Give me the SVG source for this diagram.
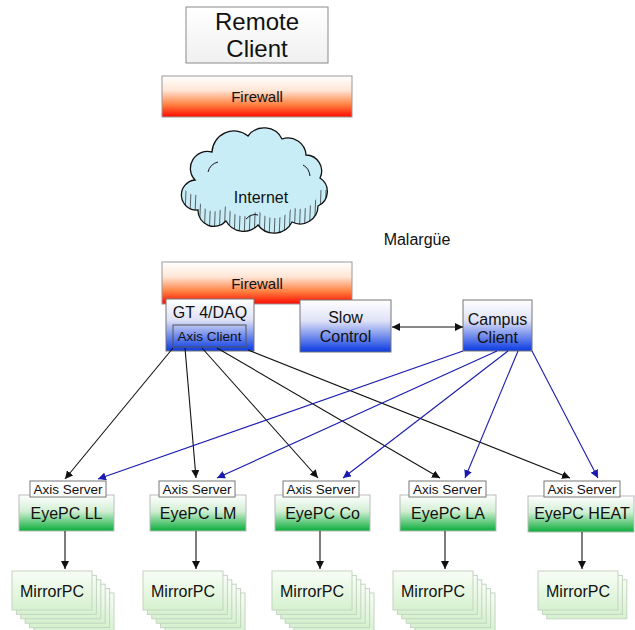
<svg xmlns="http://www.w3.org/2000/svg" width="635" height="630" viewBox="0 0 635 630">
  <defs>
    <linearGradient id="gFire" x1="0" y1="0" x2="0" y2="1">
      <stop offset="0" stop-color="#ffffff"/>
      <stop offset="0.35" stop-color="#ffe6d6"/>
      <stop offset="0.7" stop-color="#ff8040"/>
      <stop offset="1" stop-color="#ff0a00"/>
    </linearGradient>
    <linearGradient id="gBlue" x1="0" y1="0" x2="0" y2="1">
      <stop offset="0" stop-color="#ffffff"/>
      <stop offset="0.4" stop-color="#dfe2f6"/>
      <stop offset="1" stop-color="#0a3ae2"/>
    </linearGradient>
    <linearGradient id="gGreen" x1="0" y1="0" x2="0" y2="1">
      <stop offset="0" stop-color="#ffffff"/>
      <stop offset="0.45" stop-color="#d2efd4"/>
      <stop offset="1" stop-color="#0aad3a"/>
    </linearGradient>
    <linearGradient id="gMirror" x1="0" y1="0" x2="0" y2="1">
      <stop offset="0" stop-color="#f8fdf6"/>
      <stop offset="1" stop-color="#d6f1cf"/>
    </linearGradient>
    <linearGradient id="gGray" x1="0" y1="0" x2="0" y2="1">
      <stop offset="0" stop-color="#ffffff"/>
      <stop offset="1" stop-color="#f0f0f0"/>
    </linearGradient>
    <path id="cloudShape" d="M 195,180 A 17,17 0 0 1 212,152 A 22,22 0 0 1 248,136 A 20,20 0 0 1 282,139 A 18,18 0 0 1 306,155 A 16,16 0 0 1 320,178 A 16,16 0 0 1 318,206 A 18,18 0 0 1 292,222 A 20,20 0 0 1 258,225 A 20,20 0 0 1 226,221 A 16,16 0 0 1 198,210 A 15,15 0 0 1 195,180 Z"/>
    <mask id="hatchBand">
      <use href="#cloudShape" fill="#fff"/>
      <use href="#cloudShape" fill="#000" transform="translate(0,-15)"/>
    </mask>
    <marker id="arrK" viewBox="0 0 10 10" refX="10" refY="5" markerWidth="8" markerHeight="8" markerUnits="userSpaceOnUse" orient="auto-start-reverse">
      <path d="M0,0 L10,5 L0,10 Z" fill="#111"/>
    </marker>
    <marker id="arrB" viewBox="0 0 10 10" refX="10" refY="5" markerWidth="8" markerHeight="8" markerUnits="userSpaceOnUse" orient="auto">
      <path d="M0,0 L10,5 L0,10 Z" fill="#1a1ab0"/>
    </marker>
  </defs>
  <style>
    text { font-family: "Liberation Sans", Arial, sans-serif; fill: #111; text-anchor: middle; }
    .box { stroke: #8a8a8a; stroke-width: 1; }
    .fire { fill: url(#gFire); stroke: #999; stroke-width: 1; }
    .blue { fill: url(#gBlue); stroke: #777; stroke-width: 1; }
    .green { fill: url(#gGreen); stroke: #bbb; stroke-width: 1; }
    .mirror { fill: url(#gMirror); stroke: #c4d4c0; stroke-width: 1; }
    .srv { fill: #fff; stroke: #777; stroke-width: 1; }
    .k { stroke: #111; stroke-width: 1.1; fill: none; marker-end: url(#arrK); }
    .b { stroke: #1a1ab0; stroke-width: 1.1; fill: none; marker-end: url(#arrB); }
    .t24 { font-size: 24px; }
    .t16 { font-size: 16px; }
    .t15 { font-size: 15px; }
    .t13 { font-size: 13.5px; }
  </style>

  <rect width="635" height="630" fill="#fff"/>

  <!-- remote side -->
  <g id="remote-client">
    <rect x="186" y="7" width="142" height="56" fill="url(#gGray)" class="box"/>
    <text x="257" y="30" class="t24">Remote</text>
    <text x="257" y="57" class="t24">Client</text>
  </g>

  <g id="firewall-remote">
    <rect x="162" y="76" width="190" height="41" class="fire"/>
    <text x="257" y="102" class="t15">Firewall</text>
  </g>

  <g id="internet">
    <use href="#cloudShape" fill="#c9edf6" stroke="none"/>
    <g mask="url(#hatchBand)" stroke="#222" stroke-width="0.7">
      <path d="M186,190 l-2,50 M191,190 l-2,50 M196,190 l-2,50 M201,190 l-2,50 M206,190 l-2,50 M211,190 l-2,50 M216,190 l-2,50 M221,190 l-2,50 M226,190 l-2,50 M231,190 l-2,50 M236,190 l-2,50 M241,190 l-2,50 M246,190 l-2,50 M251,190 l-2,50 M256,190 l-2,50 M261,190 l-2,50 M266,190 l-2,50 M271,190 l-2,50 M276,190 l-2,50 M281,190 l-2,50 M286,190 l-2,50 M291,190 l-2,50 M296,190 l-2,50 M301,190 l-2,50 M306,190 l-2,50 M311,190 l-2,50 M316,190 l-2,50 M321,190 l-2,50 M326,190 l-2,50"/>
    </g>
    <use href="#cloudShape" fill="none" stroke="#111" stroke-width="1.3"/>
    <path d="M208,172 q2,-8 10,-10 M303,165 q6,3 7,11 M246,219 q6,-6 12,-4" fill="none" stroke="#111" stroke-width="1"/>
    <text x="261" y="203" class="t16">Internet</text>
  </g>

  <g id="site-label">
    <text x="417" y="245" class="t16">Malargüe</text>
  </g>

  <!-- campus side -->
  <g id="firewall-campus">
    <rect x="162" y="262" width="190" height="42" class="fire"/>
    <text x="257" y="289" class="t15">Firewall</text>
  </g>

  <g id="gt-daq">
    <rect x="166" y="299" width="88" height="52" class="blue"/>
    <text x="210" y="318" class="t16">GT 4/DAQ</text>
    <rect x="173" y="325" width="73" height="22" fill="none" stroke="#555" stroke-width="1"/>
    <text x="209.5" y="341" class="t13">Axis Client</text>
  </g>

  <g id="slow-control">
    <rect x="300" y="300" width="91" height="52" class="blue"/>
    <text x="345.5" y="323" class="t16">Slow</text>
    <text x="345.5" y="342" class="t16">Control</text>
  </g>

  <g id="campus-client">
    <rect x="463" y="300" width="69" height="51" class="blue"/>
    <text x="497.5" y="325" class="t16">Campus</text>
    <text x="497.5" y="343" class="t16">Client</text>
  </g>

  <!-- eye computers -->
  <g id="eyepc-ll">
    <rect x="19" y="495" width="95" height="36" class="green"/>
    <rect x="30" y="481" width="76" height="16" class="srv"/>
    <text x="68" y="494" class="t13">Axis Server</text>
    <text x="66.5" y="519" class="t16">EyePC LL</text>
  </g>
  <g id="eyepc-lm">
    <rect x="150" y="495" width="96" height="36" class="green"/>
    <rect x="159" y="481" width="76" height="16" class="srv"/>
    <text x="197" y="494" class="t13">Axis Server</text>
    <text x="198" y="519" class="t16">EyePC LM</text>
  </g>
  <g id="eyepc-co">
    <rect x="275" y="495" width="95" height="36" class="green"/>
    <rect x="283" y="481" width="76" height="16" class="srv"/>
    <text x="321" y="494" class="t13">Axis Server</text>
    <text x="322.5" y="519" class="t16">EyePC Co</text>
  </g>
  <g id="eyepc-la">
    <rect x="400" y="495" width="96" height="36" class="green"/>
    <rect x="409" y="481" width="77" height="16" class="srv"/>
    <text x="447.5" y="494" class="t13">Axis Server</text>
    <text x="448" y="519" class="t16">EyePC LA</text>
  </g>
  <g id="eyepc-heat">
    <rect x="528" y="496" width="106" height="36" class="green"/>
    <rect x="544" y="481" width="76" height="16" class="srv"/>
    <text x="582" y="494" class="t13">Axis Server</text>
    <text x="582" y="519" class="t16">EyePC HEAT</text>
  </g>

  <!-- mirror computer stacks -->
  <g id="mirror-ll">
    <rect x="34" y="593" width="80" height="39" class="mirror"/>
    <rect x="29.6" y="588.6" width="80" height="39" class="mirror"/>
    <rect x="25.2" y="584.2" width="80" height="39" class="mirror"/>
    <rect x="20.8" y="579.8" width="80" height="39" class="mirror"/>
    <rect x="16.4" y="575.4" width="80" height="39" class="mirror"/>
    <rect x="12" y="571" width="80" height="39" class="mirror"/>
    <text x="52" y="597" class="t16">MirrorPC</text>
  </g>
  <g id="mirror-lm">
    <rect x="165" y="593" width="80" height="39" class="mirror"/>
    <rect x="160.6" y="588.6" width="80" height="39" class="mirror"/>
    <rect x="156.2" y="584.2" width="80" height="39" class="mirror"/>
    <rect x="151.8" y="579.8" width="80" height="39" class="mirror"/>
    <rect x="147.4" y="575.4" width="80" height="39" class="mirror"/>
    <rect x="143" y="571" width="80" height="39" class="mirror"/>
    <text x="183" y="597" class="t16">MirrorPC</text>
  </g>
  <g id="mirror-co">
    <rect x="294" y="593" width="80" height="39" class="mirror"/>
    <rect x="289.6" y="588.6" width="80" height="39" class="mirror"/>
    <rect x="285.2" y="584.2" width="80" height="39" class="mirror"/>
    <rect x="280.8" y="579.8" width="80" height="39" class="mirror"/>
    <rect x="276.4" y="575.4" width="80" height="39" class="mirror"/>
    <rect x="272" y="571" width="80" height="39" class="mirror"/>
    <text x="312" y="597" class="t16">MirrorPC</text>
  </g>
  <g id="mirror-la">
    <rect x="415" y="593" width="80" height="39" class="mirror"/>
    <rect x="410.6" y="588.6" width="80" height="39" class="mirror"/>
    <rect x="406.2" y="584.2" width="80" height="39" class="mirror"/>
    <rect x="401.8" y="579.8" width="80" height="39" class="mirror"/>
    <rect x="397.4" y="575.4" width="80" height="39" class="mirror"/>
    <rect x="393" y="571" width="80" height="39" class="mirror"/>
    <text x="433" y="597" class="t16">MirrorPC</text>
  </g>
  <g id="mirror-heat">
    <rect x="546.8" y="579.8" width="80" height="39" class="mirror"/>
    <rect x="542.4" y="575.4" width="80" height="39" class="mirror"/>
    <rect x="538" y="571" width="80" height="39" class="mirror"/>
    <text x="578" y="597" class="t16">MirrorPC</text>
  </g>

  <!-- connectors -->
  <g id="connectors">
    <line x1="392" y1="327" x2="463" y2="327" class="k" marker-start="url(#arrK)"/>

    <line x1="173" y1="348" x2="65" y2="479" class="k"/>
    <line x1="185" y1="348" x2="196" y2="478" class="k"/>
    <line x1="202" y1="348" x2="318" y2="478" class="k"/>
    <line x1="217" y1="348" x2="440" y2="478" class="k"/>
    <line x1="248" y1="350" x2="570" y2="478" class="k"/>

    <line x1="463" y1="351" x2="98" y2="479" class="b"/>
    <line x1="497" y1="351" x2="217" y2="478" class="b"/>
    <line x1="508" y1="351" x2="343" y2="478" class="b"/>
    <line x1="518" y1="351" x2="465" y2="478" class="b"/>
    <line x1="532" y1="351" x2="598" y2="478" class="b"/>

    <line x1="65" y1="531" x2="65" y2="569" class="k"/>
    <line x1="196" y1="531" x2="196" y2="569" class="k"/>
    <line x1="320" y1="531" x2="320" y2="569" class="k"/>
    <line x1="445" y1="531" x2="445" y2="569" class="k"/>
    <line x1="582" y1="532" x2="582" y2="569" class="k"/>
  </g>
</svg>
